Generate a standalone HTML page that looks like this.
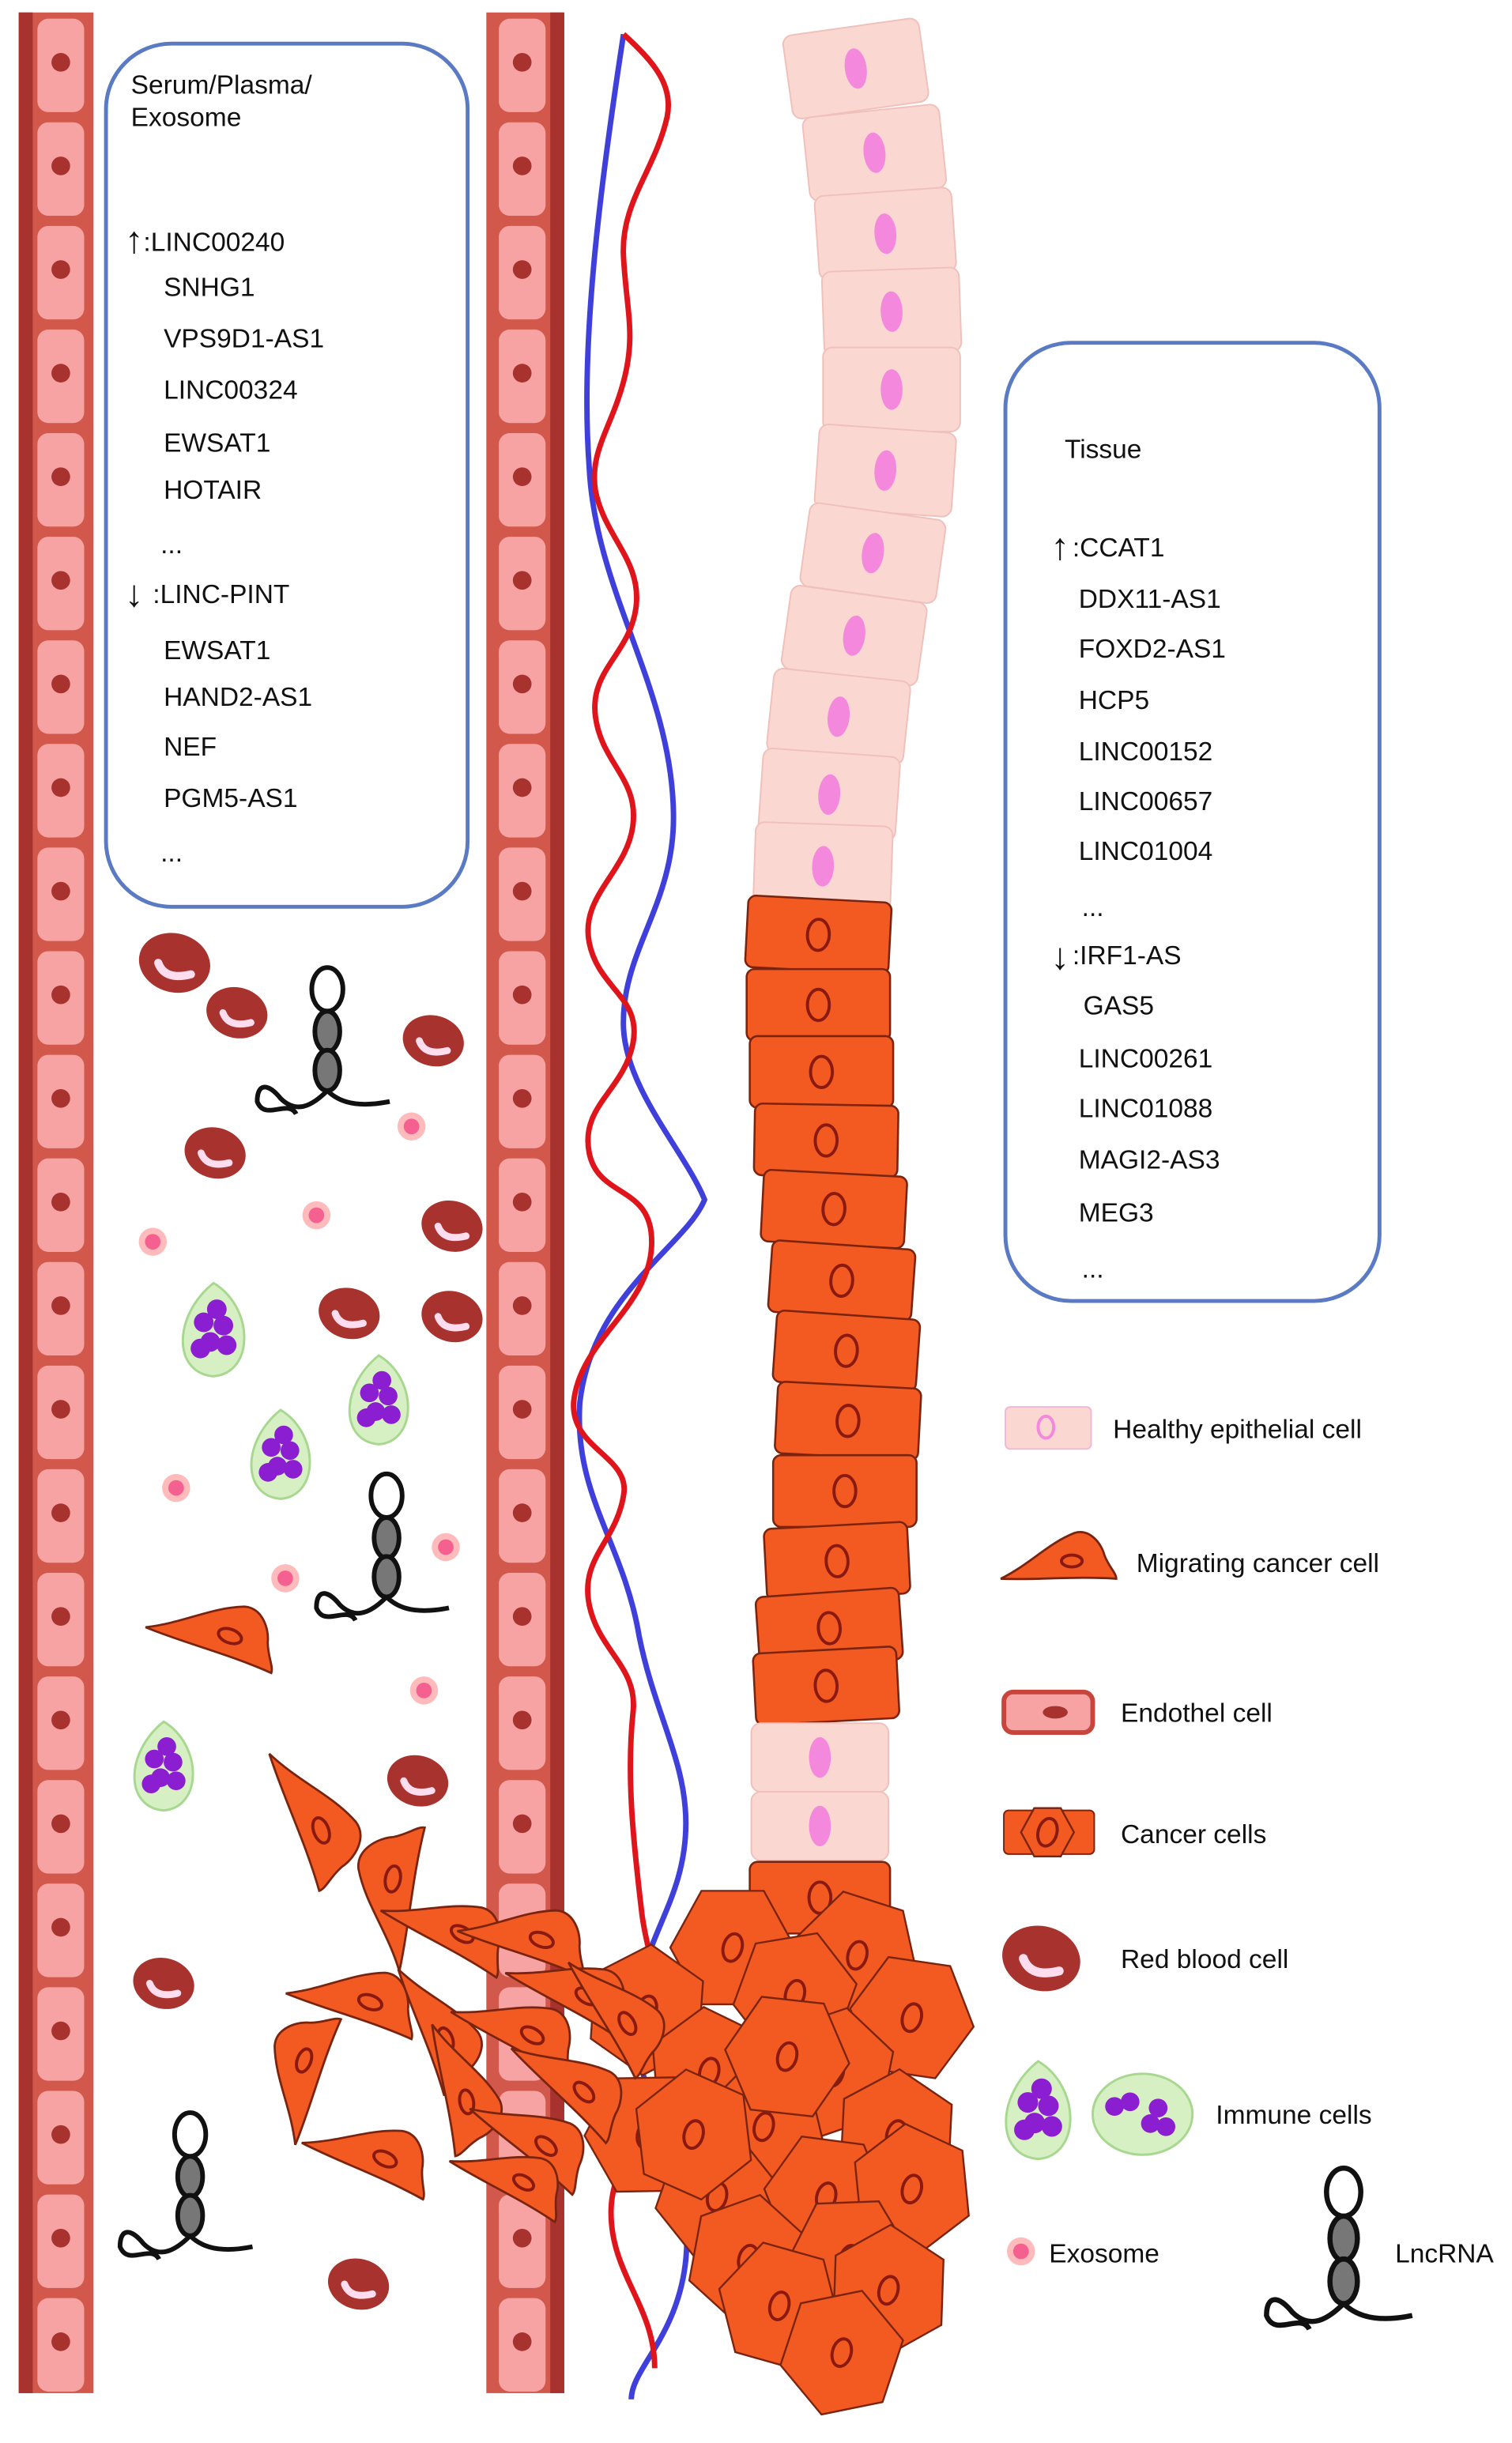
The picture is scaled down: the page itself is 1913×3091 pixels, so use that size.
<!DOCTYPE html>
<html><head><meta charset="utf-8">
<style>
html,body{margin:0;padding:0;background:#fff;}
svg{display:block;}
text{font-family:"Liberation Sans",sans-serif;fill:#111;}
</style></head>
<body>
<svg id="s" width="1913" height="3091" viewBox="0 0 970 1568" preserveAspectRatio="none" xmlns="http://www.w3.org/2000/svg">
<g id="bg"></g>
<g id="vessels"></g>
<path d="M400,22 C385,120 372,220 378,300 C382,380 430,440 432,520 C434,580 398,610 400,660 C402,700 440,740 452,770 C440,800 380,830 372,900 C368,960 400,990 410,1050 C420,1100 440,1130 440,1170 C440,1230 400,1250 410,1320 C420,1370 445,1400 440,1450 C435,1500 405,1520 405,1540" fill="none" stroke="#3f3fdc" stroke-width="3.5"/>
<path d="M400,22 C420,40 432,55 428,75 C420,110 398,130 400,165 C402,200 408,215 400,245 C392,275 378,290 382,315 C388,345 412,360 408,390 C404,420 378,430 382,460 C386,490 410,500 406,530 C402,560 372,575 378,605 C384,635 412,640 406,670 C400,700 372,710 378,740 C384,770 420,760 418,800 C416,840 372,860 368,900 C366,930 405,935 400,960 C395,990 372,1000 378,1030 C384,1060 410,1070 406,1100 C402,1140 406,1180 412,1230 C418,1270 432,1290 430,1320 C428,1360 392,1380 392,1420 C392,1460 420,1480 420,1520" fill="none" stroke="#e0151b" stroke-width="3.5"/>
<g id="cells"></g>
<g id="free"></g>
<rect x="68" y="28" width="232" height="554" rx="42" fill="#fff" stroke="#5a7bc4" stroke-width="2.5"/>
<rect x="645" y="220" width="240" height="615" rx="42" fill="#fff" stroke="#5a7bc4" stroke-width="2.5"/>
<g font-size="17">
<text x="84" y="60">Serum/Plasma/</text>
<text x="84" y="81">Exosome</text>
<text x="80" y="162" font-size="24">↑</text><text x="92" y="161">:LINC00240</text>
<text x="105" y="190">SNHG1</text>
<text x="105" y="223">VPS9D1-AS1</text>
<text x="105" y="256">LINC00324</text>
<text x="105" y="290">EWSAT1</text>
<text x="105" y="320">HOTAIR</text>
<text x="103" y="355">...</text>
<text x="80" y="389" font-size="24">↓</text><text x="98" y="387">:LINC-PINT</text>
<text x="105" y="423">EWSAT1</text>
<text x="105" y="453">HAND2-AS1</text>
<text x="105" y="485">NEF</text>
<text x="105" y="518">PGM5-AS1</text>
<text x="103" y="553">...</text>

<text x="683" y="294">Tissue</text>
<text x="674" y="359" font-size="24">↑</text><text x="688" y="357">:CCAT1</text>
<text x="692" y="390">DDX11-AS1</text>
<text x="692" y="422">FOXD2-AS1</text>
<text x="692" y="455">HCP5</text>
<text x="692" y="488">LINC00152</text>
<text x="692" y="520">LINC00657</text>
<text x="692" y="552">LINC01004</text>
<text x="694" y="588">...</text>
<text x="674" y="622" font-size="24">↓</text><text x="688" y="619">:IRF1-AS</text>
<text x="695" y="651">GAS5</text>
<text x="692" y="685">LINC00261</text>
<text x="692" y="717">LINC01088</text>
<text x="692" y="750">MAGI2-AS3</text>
<text x="692" y="784">MEG3</text>
<text x="694" y="820">...</text>

<text x="714" y="923">Healthy epithelial cell</text>
<text x="729" y="1009">Migrating cancer cell</text>
<text x="719" y="1105">Endothel cell</text>
<text x="719" y="1183">Cancer cells</text>
<text x="719" y="1263">Red blood cell</text>
<text x="780" y="1363">Immune cells</text>
<text x="673" y="1452">Exosome</text>
<text x="895" y="1452">LncRNA</text>
</g>
<g id="legend"></g>
<script><![CDATA[
var NS="http://www.w3.org/2000/svg";
function el(p,t,a){var e=document.createElementNS(NS,t);for(var k in a)e.setAttribute(k,a[k]);document.getElementById(p).appendChild(e);return e;}
[[12,60],[312,362]].forEach(function(v,i){
 var x0=v[0],x1=v[1];
 el("vessels","rect",{x:x0,y:8,width:x1-x0,height:1528,fill:"#d2584c"});
 el("vessels","rect",{x:i==0?x0:x1-9,y:8,width:9,height:1528,fill:"#a8322e"});
 for(var y=12;y<1530;y+=66.5){
  var cx=i==0?x0+12:x0+8;
  el("vessels","rect",{x:cx,y:y,width:30,height:60,rx:7,fill:"#f7a3a3"});
  el("vessels","circle",{cx:cx+15,cy:y+28,r:6,fill:"#a8322e"});
 }
});
function cell(cx,cy,w,h,ang,type){
 var g=el("cells","g",{transform:"translate("+cx+","+cy+") rotate("+ang+")"});
 var r=document.createElementNS(NS,"rect");
 r.setAttribute("x",-w/2);r.setAttribute("y",-h/2);r.setAttribute("width",w);r.setAttribute("height",h);
 var n=document.createElementNS(NS,"ellipse");n.setAttribute("cx",0);n.setAttribute("cy",0);
 if(type=="h"){
  r.setAttribute("rx",6);r.setAttribute("fill","#fbd7d2");r.setAttribute("stroke","#f0c0bb");g.appendChild(r);
  n.setAttribute("rx",7);n.setAttribute("ry",13);n.setAttribute("fill","#f488dc");g.appendChild(n);
 }else{
  r.setAttribute("rx",5);r.setAttribute("fill","#f35a22");r.setAttribute("stroke","#7a2410");r.setAttribute("stroke-width","1.3");g.appendChild(r);
  n.setAttribute("rx",7);n.setAttribute("ry",10);n.setAttribute("fill","none");n.setAttribute("stroke","#8a1a10");n.setAttribute("stroke-width","2");g.appendChild(n);
 }
}
var healthy=[[549,44,-8],[561,98,-6],[568,150,-4],[572,200,-2],[572,250,0],[568,302,4],[560,355,8],[548,408,8],[538,460,6],[532,510,4],[528,556,2]];
healthy.forEach(function(c){cell(c[0],c[1],88,54,c[2],"h");});
var cancer=[[525,600,3],[525,645,0],[527,688,0],[530,732,1],[535,776,3],[540,822,4],[543,867,4],[544,912,3],[542,957,0],[537,1002,-3],[532,1045,-4],[530,1082,-3]];
cancer.forEach(function(c){cell(c[0],c[1],92,46,c[2],"c");});
cell(526,1128,88,44,0,"h");cell(526,1172,88,44,0,"h");
cell(526,1218,90,46,0,"c");
function hex(cx,cy,r,rot,p){
 var pts=[];for(var k=0;k<6;k++){var a=(k*60+rot)*Math.PI/180;pts.push((cx+r*Math.cos(a)).toFixed(1)+","+(cy+r*Math.sin(a)*1.05).toFixed(1));}
 el(p,"polygon",{points:pts.join(" "),fill:"#f35a22",stroke:"#7a2410","stroke-width":1.2});
 el(p,"ellipse",{cx:cx,cy:cy,rx:6,ry:9,fill:"none",stroke:"#8a1a10","stroke-width":2,transform:"rotate(15 "+cx+" "+cy+")"});
}
var hx=[[470,1250],[550,1255],[415,1290],[510,1280],[585,1295],[455,1330],[535,1330],[415,1370],[490,1365],[575,1370],[460,1410],[530,1410],[585,1405],[480,1450],[545,1450],[500,1480],[570,1470],[540,1510],[505,1320],[445,1370]];
hx.forEach(function(h,i){hex(h[0],h[1],40,i*17%60,"cells");});
function mig(cx,cy,s,ang,p){
 var g=el(p,"g",{transform:"translate("+cx+","+cy+") rotate("+ang+") scale("+s+")"});
 var a=document.createElementNS(NS,"path");a.setAttribute("d","M-40,14 C-20,4 -8,-10 10,-17 C20,-20 28,-10 30,-2 C33,6 38,10 38,14 C10,12 -15,15 -40,14 Z");
 a.setAttribute("fill","#f35a22");a.setAttribute("stroke","#7a2410");a.setAttribute("stroke-width",1.4/s);g.appendChild(a);
 var n=document.createElementNS(NS,"ellipse");n.setAttribute("cx",8);n.setAttribute("cy",2);n.setAttribute("rx",7);n.setAttribute("ry",4);n.setAttribute("fill","none");n.setAttribute("stroke","#8a1a10");n.setAttribute("stroke-width",2/s);g.appendChild(n);
}
var migs=[[140,1045,1.1,20],[205,1165,1.2,70],[248,1215,1.2,-80],[230,1280,1.1,20],[290,1235,1.1,30],[340,1240,1.1,20],[285,1300,1.1,70],[300,1340,1.1,80],[190,1330,1.1,-70],[240,1380,1.1,25],[335,1300,1.1,30],[370,1275,1.1,30],[345,1370,1.1,40],[370,1335,1.1,45],[400,1290,1.1,60],[330,1395,1.0,30]];
migs.forEach(function(m){mig(m[0],m[1],m[2],m[3],"free");});
function rbc(cx,cy,s,p){
 el(p,"ellipse",{cx:cx,cy:cy,rx:22*s,ry:18*s,fill:"#a8322e",transform:"rotate(15 "+cx+" "+cy+")"});
 el(p,"path",{d:"M"+(cx-10*s)+","+(cy)+" Q"+(cx-6*s)+","+(cy+11*s)+" "+(cx+10*s)+","+(cy+7*s),fill:"none",stroke:"#fde","stroke-width":5*s,"stroke-linecap":"round"});
}
[[112,618,1.05],[152,650,.9],[278,668,.9],[138,740,.9],[290,787,.9],[224,843,.9],[290,845,.9],[268,1143,.9],[105,1273,.9],[230,1466,.9]].forEach(function(r){rbc(r[0],r[1],r[2],"free");});
function exo(cx,cy,p){el(p,"circle",{cx:cx,cy:cy,r:9,fill:"#fbb"});el(p,"circle",{cx:cx,cy:cy,r:5,fill:"#f4608f"});}
[[264,723],[98,797],[203,780],[113,955],[286,993],[183,1013],[272,1085]].forEach(function(e){exo(e[0],e[1],"free");});
function imm(cx,cy,s,p){
 el(p,"path",{d:"M"+cx+","+(cy-30*s)+" C"+(cx+25*s)+","+(cy-15*s)+" "+(cx+25*s)+","+(cy+25*s)+" "+cx+","+(cy+27*s)+" C"+(cx-25*s)+","+(cy+25*s)+" "+(cx-25*s)+","+(cy-10*s)+" "+cx+","+(cy-30*s)+"Z",fill:"#d6f0c4",stroke:"#a8d890","stroke-width":1.5});
 [[-6,-6],[6,-4],[-2,6],[8,8],[-8,10],[2,-14]].forEach(function(d){el(p,"circle",{cx:cx+d[0]*s,cy:cy+d[1]*s,r:6*s,fill:"#8a1ed0"});});
}
[[137,855,1.05],[243,900,1],[180,935,1],[105,1135,1]].forEach(function(m){imm(m[0],m[1],m[2],"free");});
function lnc(cx,cy,s,p){
 var g=el(p,"g",{transform:"translate("+cx+","+cy+") scale("+s+")"});
 function a(t,at){var e=document.createElementNS(NS,t);for(var k in at)e.setAttribute(k,at[k]);g.appendChild(e);}
 a("ellipse",{cx:0,cy:-30,rx:10,ry:14,fill:"none",stroke:"#111","stroke-width":3});
 a("ellipse",{cx:0,cy:-3,rx:8,ry:13,fill:"#777",stroke:"#111","stroke-width":3});
 a("ellipse",{cx:0,cy:22,rx:8,ry:13,fill:"#777",stroke:"#111","stroke-width":3});
 a("path",{d:"M0,35 C-10,45 -20,50 -30,40 C-38,30 -45,30 -45,42 C-40,55 -25,40 -20,50 M0,35 C10,45 25,45 40,42",fill:"none",stroke:"#111","stroke-width":3});
}
lnc(210,665,1,"free");lnc(248,990,1,"free");lnc(122,1400,1,"free");
var L="legend";
el(L,"rect",{x:645,y:903,width:55,height:27,rx:3,fill:"#fbd7d2",stroke:"#f0b8d8"});
el(L,"ellipse",{cx:671,cy:916,rx:5,ry:7,fill:"none",stroke:"#f488dc","stroke-width":2});
mig(680,1000,0.95,0,L);
el(L,"rect",{x:644,y:1086,width:57,height:26,rx:6,fill:"#f7a3a3",stroke:"#c8453e","stroke-width":3});
el(L,"ellipse",{cx:677,cy:1099,rx:8,ry:4,fill:"#a8322e"});
el(L,"rect",{x:644,y:1162,width:58,height:28,rx:3,fill:"#f35a22",stroke:"#7a2410"});
hex(672,1176,17,0,L);
rbc(668,1257,1.15,L);
imm(666,1356,1.1,L);
el(L,"ellipse",{cx:733,cy:1357,rx:32,ry:26,fill:"#d6f0c4",stroke:"#a8d890","stroke-width":1.5});
[[-18,-5],[-8,-8],[10,-4],[5,6],[15,8]].forEach(function(d){el(L,"circle",{cx:733+d[0],cy:1357+d[1],r:6,fill:"#8a1ed0"});});
exo(655,1445,L);
lnc(862,1440,1.1,L);
]]></script>
</svg>
</body></html>
